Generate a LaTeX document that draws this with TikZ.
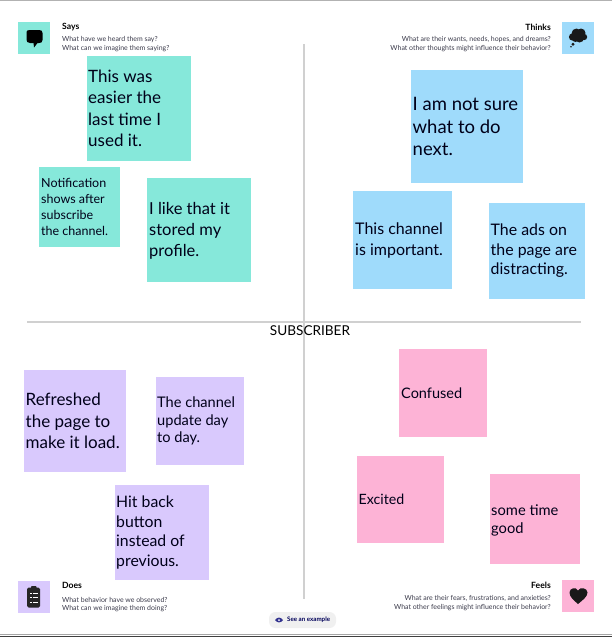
\documentclass[tikz,border=0pt]{standalone}
\usepackage{fontspec}
\setmainfont{Lato}
\definecolor{stgreen}{HTML}{86E8DA}
\definecolor{stblue}{HTML}{9FDBFB}
\definecolor{stviolet}{HTML}{D9C9FD}
\definecolor{stpink}{HTML}{FDB3D6}
\definecolor{rulegray}{HTML}{D0D0D0}
\definecolor{subtxt}{HTML}{3A3A4A}
\tikzset{
  sticktxt/.style 2 args={anchor=west,align=left,inner sep=0pt,text=black!90!blue,font=\fontsize{#1}{#2}\selectfont},
  iconbox/.style={minimum size=32pt,inner sep=0pt,outer sep=0pt},
  head/.style={inner sep=0pt,font=\fontsize{8.6}{9}\selectfont\bfseries},
  sub/.style={inner sep=0pt,text=subtxt,font=\fontsize{6.95}{9}\selectfont},
  divider/.style={draw=rulegray,line width=2pt},
}
\newcommand{\stickybox}[6]{% name, colour, x0,y0,x1,y1
  \fill[#2] (#3,#4) rectangle (#5,#6);
  \coordinate (#1) at (#3,{(#4+#6)/2});
}
\begin{document}
\begin{tikzpicture}[x=1pt,y=-1pt]
\useasboundingbox (0,0) rectangle (612,637);
\fill[white] (0,0) rectangle (612,637);
% frame rules
\fill[black!30] (0,0) rectangle (612,1.2);
\fill[black!35] (0,633.5) rectangle (612,635);
\fill[black!75] (0,635.5) rectangle (612,637);
% dividers
\coordinate (vt) at (304,44); \coordinate (vb) at (304,599);
\coordinate (hl) at (27,322); \coordinate (hr) at (581,322);
\draw[divider] (vt) -- (vb);
\draw[divider] (hl) -- (hr);
\node[inner sep=0pt,font=\fontsize{13.6}{15}\selectfont] (center) at (310,330.5) {SUBSCRIBER};
% Says
\stickybox{a1}{stgreen}{87}{56}{191}{161}
\node[sticktxt={17}{21.5},xshift=1pt] (ta1) at (a1) {This was\\easier the\\last time I\\used it.};
\stickybox{a2}{stgreen}{39}{167}{120}{247}
\node[sticktxt={12.5}{16},xshift=2pt] (ta2) at (a2) {Notification\\shows after\\subscribe\\the channel.};
\stickybox{a3}{stgreen}{147}{178}{251}{282}
\node[sticktxt={16.5}{21},xshift=2pt,yshift=-.7pt] (ta3) at (a3) {I like that it\\stored my\\profile.};
% Thinks
\stickybox{b1}{stblue}{411}{70}{523}{183}
\node[sticktxt={18.5}{22.5},xshift=1.5pt] (tb1) at (b1) {I am not sure\\what to do\\next.};
\stickybox{b2}{stblue}{353}{191}{452}{289}
\node[sticktxt={16}{21},xshift=2pt,yshift=-.7pt] (tb2) at (b2) {This channel\\is important.};
\stickybox{b3}{stblue}{489}{203}{585}{299}
\node[sticktxt={15.9}{19.5},xshift=1.5pt] (tb3) at (b3) {The ads on\\the page are\\distracting.};
% Does
\stickybox{c1}{stviolet}{24}{370}{126}{472}
\node[sticktxt={17}{21.5},xshift=1.5pt] (tc1) at (c1) {Refreshed\\the page to\\make it load.};
\stickybox{c2}{stviolet}{156}{377}{244}{465}
\node[sticktxt={14.6}{17.5},xshift=1pt] (tc2) at (c2) {The channel\\update day\\to day.};
\stickybox{c3}{stviolet}{115}{485}{209}{580}
\node[sticktxt={15.8}{19.5},xshift=1pt] (tc3) at (c3) {Hit back\\button\\instead of\\previous.};
% Feels
\stickybox{d1}{stpink}{399}{349}{487}{437}
\node[sticktxt={14.5}{18},xshift=2pt,yshift=-.7pt] (td1) at (d1) {Confused};
\stickybox{d2}{stpink}{357}{456}{444}{543}
\node[sticktxt={14.2}{18},xshift=1.5pt] (td2) at (d2) {Excited};
\stickybox{d3}{stpink}{490}{474}{580}{564}
\node[sticktxt={14.7}{18},xshift=1pt,yshift=-1pt] (td3) at (d3) {some time\\good};
% icon boxes
\node[iconbox,fill=stgreen] (isays) at (34,38) {};
\node[iconbox,fill=stblue] (ithinks) at (578,38) {};
\node[iconbox,fill=stviolet] (idoes) at (34,597) {};
\node[iconbox,fill=stpink] (ifeels) at (578,595.5) {};
% says icon
\fill[black] (26.5,32) .. controls (26.5,30.5) and (28,30) .. (30,30) -- (39,30) .. controls (41.5,30) and (42.5,31) .. (42.5,33) -- (42.5,40) .. controls (42.5,42.5) and (41,43) .. (39,43) -- (37.5,43) -- (34,47.5) -- (33.5,43) -- (30,43) .. controls (27.5,43) and (26.5,41.5) .. (26.5,39.5) -- cycle;
% thinks icon
\fill[black!90] (572.5,37) circle (3.6) (576.5,33.5) circle (5) (581,33) circle (4.5) (584,37) circle (3.2) (579.5,38) circle (4.5) (575.5,38.5) circle (3.5);
\fill[black!90] (573,44.3) circle (1.6) (571,46.8) circle (.9);
% does icon
\fill[black!85,rounded corners=1.5pt] (27.2,587.5) rectangle (40,607.5);
\fill[black!85,rounded corners=.8pt] (31,586) rectangle (36.5,589);
\draw[white,line width=.6pt] (30,593) -- (31.5,593) (33,593) -- (38,593) (30,597.5) -- (31.5,597.5) (33,597.5) -- (38,597.5) (30,602) -- (31.5,602) (33,602) -- (38,602);
% feels icon
\fill[black!90] (578,604) .. controls (574,600.5) and (569.5,597) .. (569.5,592.5) .. controls (569.5,588) and (576,586.5) .. (578,590.5) .. controls (580,586.5) and (587.5,588) .. (587.5,592.5) .. controls (587.5,597) and (582,600.5) .. (578,604) -- cycle;
% captions
\node[head,anchor=west] (hs) at (62,27.3) {Says};
\node[sub,anchor=west] (s1) at (62,39.5) {What have we heard them say?};
\node[sub,anchor=west] (s2) at (62,48.3) {What can we imagine them saying?};
\node[head,anchor=east] (ht) at (551,27.3) {Thinks};
\node[sub,anchor=east] (t1) at (551,39.5) {What are their wants, needs, hopes, and dreams?};
\node[sub,anchor=east] (t2) at (551,48.3) {What other thoughts might influence their behavior?};
\node[head,anchor=west] (hd) at (62,585) {Does};
\node[sub,anchor=west] (d1l) at (62,599.5) {What behavior have we observed?};
\node[sub,anchor=west] (d2l) at (62,608.5) {What can we imagine them doing?};
\node[head,anchor=east] (hf) at (551,585) {Feels};
\node[sub,anchor=east] (f1) at (551,598.5) {What are their fears, frustrations, and anxieties?};
\node[sub,anchor=east] (f2) at (551,607.5) {What other feelings might influence their behavior?};
% see an example
\fill[black!6,rounded corners=6.5pt] (269,612) rectangle (336,628);
\fill[blue!45!black!80] (275,620) .. controls (277,616.8) and (281,616.8) .. (283,620) .. controls (281,623.2) and (277,623.2) .. (275,620) -- cycle;
\fill[white] (279,620) circle (1);
\node[inner sep=0pt,anchor=west,text=blue!35!black,font=\fontsize{6.2}{7}\selectfont\bfseries] (see) at (287,620) {See an example};
\end{tikzpicture}
\end{document}
